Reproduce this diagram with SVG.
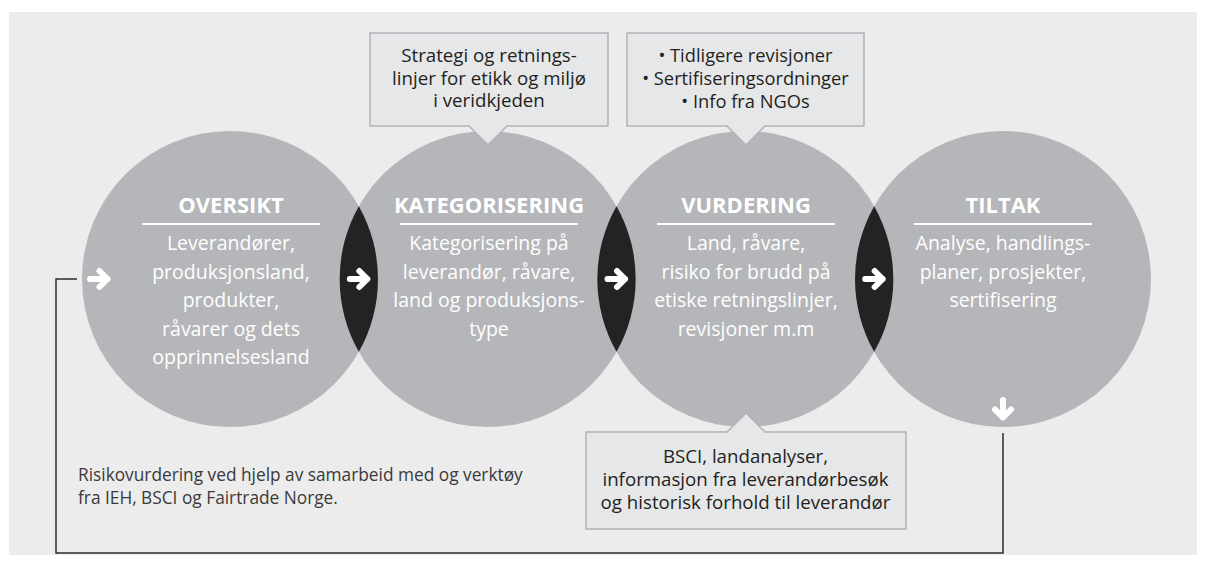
<svg xmlns="http://www.w3.org/2000/svg" width="1206" height="564" viewBox="0 0 1206 564">
<style>
  .bg { fill: #ececec; }
  .circle { fill: #b5b6b9; }
  .lens { fill: #222423; }
  .title { font-family: "Open Sans", "Liberation Sans", sans-serif; font-weight: 700; font-size: 22px; fill: #ffffff; text-anchor: middle; }
  .body { font-family: "Open Sans", "Liberation Sans", sans-serif; font-size: 19.5px; fill: #ffffff; text-anchor: middle; }
  .rule { stroke: #ffffff; stroke-width: 2.2; }
  .callout { fill: #e6e7e8; stroke: #b1b3b6; stroke-width: 1.5; }
  .ctext { font-family: "Open Sans", "Liberation Sans", sans-serif; font-size: 18.7px; fill: #231f20; text-anchor: middle; }
  .ctext2 { font-family: "Open Sans", "Liberation Sans", sans-serif; font-size: 18.3px; fill: #231f20; text-anchor: middle; }
  .note { font-family: "Open Sans", "Liberation Sans", sans-serif; font-size: 17.3px; fill: #3a3a3a; }
  .arrow { fill: none; stroke: #ffffff; stroke-width: 6; stroke-linecap: round; stroke-linejoin: round; }
  .loop { fill: none; stroke: #2b2b2b; stroke-width: 1.5; }
</style>
<defs>
  <path id="arr" d="M-9,0 H8.5 M0.5,-8 L8.5,0 L0.5,8"/>
</defs>
<rect class="bg" x="9" y="12" width="1188" height="543"/>

<g id="node-oversikt">
  <circle class="circle" cx="230" cy="279" r="148"/>
</g>
<g id="node-kategorisering">
  <circle class="circle" cx="487.67" cy="279" r="148"/>
</g>
<g id="node-vurdering">
  <circle class="circle" cx="745.33" cy="279" r="148"/>
</g>
<g id="node-tiltak">
  <circle class="circle" cx="1003" cy="279" r="148"/>
</g>

<g id="lenses">
  <path class="lens" d="M358.83,206.16 A148,148 0 0 1 358.83,351.84 A148,148 0 0 1 358.83,206.16 Z"/>
  <path class="lens" d="M616.5,206.16 A148,148 0 0 1 616.5,351.84 A148,148 0 0 1 616.5,206.16 Z"/>
  <path class="lens" d="M874.17,206.16 A148,148 0 0 1 874.17,351.84 A148,148 0 0 1 874.17,206.16 Z"/>
</g>

<g id="text-oversikt">
  <text class="title" x="231" y="213">OVERSIKT</text>
  <line class="rule" x1="142" y1="224" x2="320" y2="224"/>
  <text class="body" x="231" y="250">Leverandører,</text>
  <text class="body" x="231" y="278.5">produksjonsland,</text>
  <text class="body" x="231" y="307">produkter,</text>
  <text class="body" x="231" y="335.5">råvarer og dets</text>
  <text class="body" x="231" y="364">opprinnelsesland</text>
</g>
<g id="text-kategorisering">
  <text class="title" x="489" y="213">KATEGORISERING</text>
  <line class="rule" x1="400" y1="224" x2="578" y2="224"/>
  <text class="body" x="489" y="250">Kategorisering på</text>
  <text class="body" x="489" y="278.5">leverandør, råvare,</text>
  <text class="body" x="489" y="307">land og produksjons-</text>
  <text class="body" x="489" y="335.5">type</text>
</g>
<g id="text-vurdering">
  <text class="title" x="746" y="213">VURDERING</text>
  <line class="rule" x1="657" y1="224" x2="835" y2="224"/>
  <text class="body" x="746" y="250">Land, råvare,</text>
  <text class="body" x="746" y="278.5">risiko for brudd på</text>
  <text class="body" x="746" y="307">etiske retningslinjer,</text>
  <text class="body" x="746" y="335.5">revisjoner m.m</text>
</g>
<g id="text-tiltak">
  <text class="title" x="1003" y="213">TILTAK</text>
  <line class="rule" x1="914" y1="224" x2="1092" y2="224"/>
  <text class="body" x="1003" y="250">Analyse, handlings-</text>
  <text class="body" x="1003" y="278.5">planer, prosjekter,</text>
  <text class="body" x="1003" y="307">sertifisering</text>
</g>

<g id="callout-strategi">
  <path class="callout" d="M370,33 H608 V126 H507 L488,145 L469,126 H370 Z"/>
  <text class="ctext" x="489" y="62">Strategi og retnings-</text>
  <text class="ctext" x="489" y="84.5">linjer for etikk og miljø</text>
  <text class="ctext" x="489" y="107">i veridkjeden</text>
</g>
<g id="callout-kilder">
  <path class="callout" d="M627,33 H864 V126 H765 L746,145 L727,126 H627 Z"/>
  <text class="ctext2" x="745.5" y="61.5">• Tidligere revisjoner</text>
  <text class="ctext2" x="745.5" y="84.5">• Sertifiseringsordninger</text>
  <text class="ctext2" x="745.5" y="107.5">• Info fra NGOs</text>
</g>
<g id="callout-bsci">
  <path class="callout" d="M586,432 H727 L746,413 L765,432 H906 V529 H586 Z"/>
  <text class="ctext" x="745.5" y="463">BSCI, landanalyser,</text>
  <text class="ctext" x="745.5" y="486">informasjon fra leverandørbesøk</text>
  <text class="ctext" x="745.5" y="509">og historisk forhold til leverandør</text>
</g>

<g id="note">
  <text class="note" x="78" y="481">Risikovurdering ved hjelp av samarbeid med og verktøy</text>
  <text class="note" x="78" y="503.5">fra IEH, BSCI og Fairtrade Norge.</text>
</g>

<g id="connectors">
  <polyline class="loop" points="1003,433 1003,553 56,553 56,279 77,279"/>
  <use href="#arr" class="arrow" x="99" y="279"/>
  <use href="#arr" class="arrow" x="358.83" y="279"/>
  <use href="#arr" class="arrow" x="616.5" y="279"/>
  <use href="#arr" class="arrow" x="874.17" y="279"/>
  <use href="#arr" class="arrow" transform="translate(1003,409) rotate(90)"/>
</g>
</svg>
